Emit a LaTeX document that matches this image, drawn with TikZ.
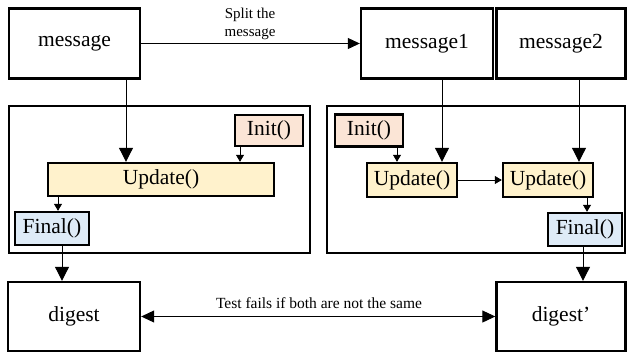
\documentclass[tikz,border=0pt]{standalone}
\usepackage{fontspec}
\setmainfont{Liberation Serif}
\usetikzlibrary{arrows.meta}
\definecolor{initc}{HTML}{FBE5D6}
\definecolor{updc}{HTML}{FFF2CC}
\definecolor{finc}{HTML}{DEEBF7}
\begin{document}
\begin{tikzpicture}[x=1pt,y=-1pt,
  box/.style={draw, line width=2.4pt, inner sep=0pt, font=\fontsize{21.5}{24}\selectfont},
  cont/.style={draw, line width=2.4pt, inner sep=0pt},
  big/.style={line width=1pt, -{Triangle[width=14pt,length=14pt]}},
  mid/.style={line width=1pt, -{Triangle[width=11pt,length=12pt]}},
  small/.style={line width=0.8pt, -{Triangle[width=8pt,length=7pt]}},
  lbl/.style={font=\fontsize{15}{18}\selectfont, align=center, inner sep=0pt}]
\useasboundingbox (0,0) rectangle (628,354);
% top boxes
\node[box, minimum width=131pt, minimum height=70pt] (msg) at (74.5,43.5) {message};
\node[box, minimum width=132pt, minimum height=70pt] (msg1) at (427,43.5) {message1};
\node[box, minimum width=129pt, minimum height=70pt] (msg2) at (561,43.5) {message2};
% containers
\node[cont, minimum width=301pt, minimum height=147pt] (contL) at (159.5,179.5) {};
\node[cont, minimum width=298pt, minimum height=147pt] (contR) at (476,179.5) {};
% left inner
\node[box, fill=initc, minimum width=68pt, minimum height=31pt] (initL) at (269,130.5) {Init()};
\node[box, fill=updc, minimum width=226pt, minimum height=33pt] (updL) at (161,179.5) {Update()};
\node[box, fill=finc, minimum width=74pt, minimum height=33pt] (finL) at (52,228.5) {Final()};
% right inner
\node[box, fill=initc, minimum width=68pt, minimum height=32pt] (initR) at (369,130.5) {Init()};
\node[box, fill=updc, minimum width=90pt, minimum height=34pt] (upd1) at (412,180) {Update()};
\node[box, fill=updc, minimum width=90pt, minimum height=34pt] (upd2) at (548,180) {Update()};
\node[box, fill=finc, minimum width=74pt, minimum height=33pt] (finR) at (585,229.5) {Final()};
% bottom boxes
\node[box, minimum width=132pt, minimum height=69pt] (dig) at (74,316.5) {digest};
\node[box, minimum width=129pt, minimum height=69pt] (digp) at (561,316.5) {digest’};
% labels
\node[lbl] (splitlbl) at (250,24) {Split the\\message};
\node[lbl, font=\fontsize{15.5}{18}\selectfont] (testlbl) at (319,303) {Test fails if both are not the same};
% arrows
\draw[mid] (msg.east) -- (msg1.west);
\draw[big] (msg.south -| 126,0) -- (updL.north -| 126,0);
\draw[small] (initL.south -| 240,0) -- (updL.north -| 240,0);
\draw[small] (updL.south -| 58,0) -- (finL.north -| 58,0);
\draw[big] (finL.south -| 62,0) -- (dig.north -| 62,0);
\draw[big] (msg1.south -| 442,0) -- (upd1.north -| 442,0);
\draw[big] (msg2.south -| 579,0) -- (upd2.north -| 579,0);
\draw[small] (initR.south -| 397,0) -- (upd1.north -| 397,0);
\draw[small] (upd1.east) -- (upd2.west);
\draw[small] (upd2.south -| 587,0) -- (finR.north -| 587,0);
\draw[big] (finR.south -| 583,0) -- (digp.north -| 583,0);
\draw[line width=1pt, {Triangle[width=12pt,length=13pt]}-{Triangle[width=12pt,length=13pt]}] (dig.east) -- (digp.west);
\end{tikzpicture}
\end{document}
